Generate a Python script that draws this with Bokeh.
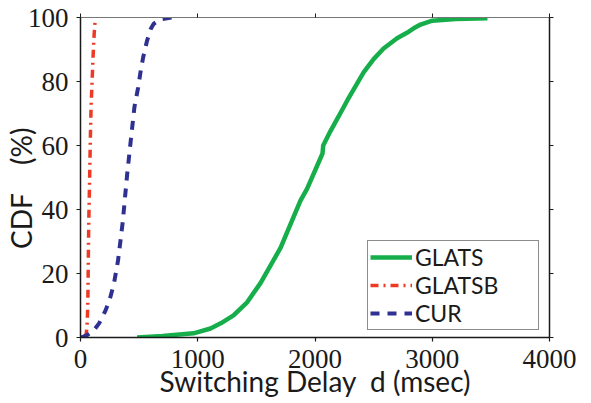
from bokeh.plotting import figure
from bokeh.models import LinearAxis, Legend, LegendItem, FixedTicker, Range1d, CustomJSTickFormatter
from bokeh.embed import file_html
from bokeh.resources import INLINE

# ---- data ----
glats_x = [483, 700, 964, 1109, 1200, 1305, 1421, 1535, 1706, 1876, 1933, 2064, 2070, 2132, 2200, 2274, 2350, 2416, 2500, 2585, 2700, 2788, 2850, 2900, 3000, 3200, 3471]
glats_y = [0, 0.5, 1.3, 2.8, 4.5, 6.9, 11, 17, 28, 42.8, 46.5, 57.5, 60, 64.5, 69, 74, 78.8, 82.9, 87, 90.3, 93.5, 95.3, 96.8, 97.8, 99, 99.5, 99.8]

glatsb_x = [40, 50, 58, 63, 66, 70, 77, 85, 91, 99, 105, 113, 120, 128]
glatsb_y = [0, 1.5, 5, 12, 22, 35, 48, 64, 73, 80, 86, 92.5, 97, 100]

cur_x = [5, 60, 113, 160, 213, 250, 285, 320, 360, 398, 430, 460, 491, 512, 534, 568, 600, 623, 680, 750, 782]
cur_y = [0, 0.8, 2.2, 4.5, 8.4, 12, 16.8, 24, 36, 51, 62, 72, 78, 83, 87.5, 92.8, 96.5, 98, 99.4, 99.8, 100]

series_names = ["GLATS", "GLATSB", "CUR"]

x_ticks = [0, 1000, 2000, 3000, 4000]
y_ticks = [0, 20, 40, 60, 80, 100]

x_label = "Switching Delay\u00a0 d (msec)"
y_label = "CDF\u00a0\u00a0\u00a0 (%)\u00a0\u00a0\u00a0"

GREEN = "#16AE4A"
RED = "#EE3A24"
BLUE = "#2E3192"
INK = "#1a1a1a"

p = figure(width=591, height=403, output_backend="svg", toolbar_location=None,
           x_range=Range1d(0, 4000), y_range=Range1d(0, 100),
           min_border_left=80, min_border_right=42, min_border_top=17, min_border_bottom=66)

p.grid.visible = False
p.outline_line_color = "#777777"
p.outline_line_width = 1

tick_font = "Liberation Serif"
title_font = "Lato"

for ax in (p.xaxis[0], p.yaxis[0]):
    ax.major_tick_in = 0
    ax.major_tick_out = 4
    ax.minor_tick_in = 0
    ax.minor_tick_out = 0
    ax.axis_line_color = INK
    ax.axis_line_width = 1.5
    ax.major_tick_line_color = INK
    ax.major_tick_line_width = 1.2
    ax.major_label_text_font = tick_font
    ax.major_label_text_font_size = "27px"
    ax.major_label_text_color = INK
    ax.axis_label_text_font = title_font
    ax.axis_label_text_font_size = "28px"
    ax.axis_label_text_font_style = "normal"
    ax.axis_label_text_color = INK

p.xaxis[0].ticker = FixedTicker(ticks=x_ticks)
p.yaxis[0].ticker = FixedTicker(ticks=y_ticks)
p.xaxis[0].axis_label = x_label
p.yaxis[0].axis_label = y_label
p.xaxis[0].major_label_standoff = 8
p.xaxis[0].axis_label_standoff = -7
p.yaxis[0].major_label_standoff = 8
p.yaxis[0].axis_label_standoff = -13

blank = CustomJSTickFormatter(code="return ''")
top = LinearAxis(ticker=FixedTicker(ticks=x_ticks), formatter=blank,
                 major_label_text_font_size="1px", major_label_standoff=0,
                 major_tick_in=0, major_tick_out=4, minor_tick_out=0, minor_tick_in=0,
                 axis_line_color="#777777", major_tick_line_color=INK)
right = LinearAxis(ticker=FixedTicker(ticks=y_ticks), formatter=blank,
                   major_label_text_font_size="1px", major_label_standoff=0,
                   major_tick_in=0, major_tick_out=4, minor_tick_out=0, minor_tick_in=0,
                   axis_line_color=INK, axis_line_width=1.5, major_tick_line_color=INK)
p.add_layout(top, "above")
p.add_layout(right, "right")

r1 = p.line(glats_x, glats_y, line_color=GREEN, line_width=4.5)
r2 = p.line(glatsb_x, glatsb_y, line_color=RED, line_width=3.5, line_dash="8 5 2 5")
r3 = p.line(cur_x, cur_y, line_color=BLUE, line_width=4, line_dash="9 8")

legend = Legend(items=[LegendItem(label=series_names[0], renderers=[r1]),
                       LegendItem(label=series_names[1], renderers=[r2]),
                       LegendItem(label=series_names[2], renderers=[r3])],
                location=(287, 7))
legend.label_text_font = title_font
legend.label_text_font_size = "23px"
legend.label_text_color = INK
legend.label_standoff = 3
legend.label_height = 18
legend.label_width = 121
legend.glyph_height = 18
legend.glyph_width = 42
legend.spacing = 0
legend.padding = 2
legend.margin = 0
legend.border_line_color = INK
legend.border_line_width = 1.2
legend.background_fill_alpha = 1
p.add_layout(legend, "center")

open("out.html", "w").write(file_html(p, INLINE))
